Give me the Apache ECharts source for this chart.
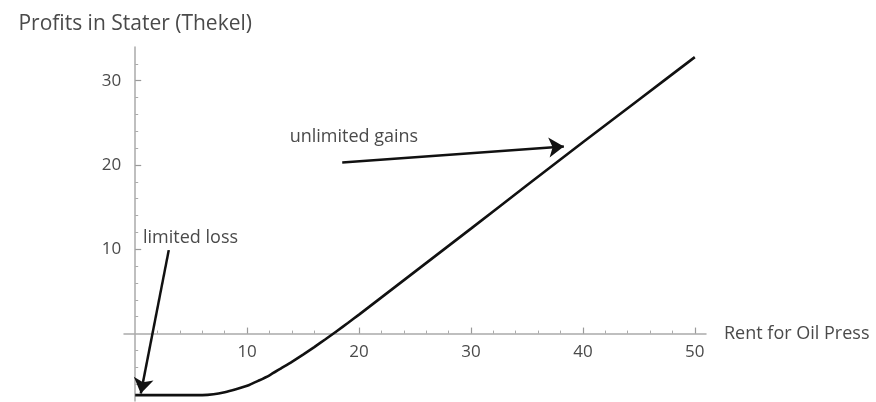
<!DOCTYPE html>
<html>
<head>
<meta charset="utf-8">
<script src="https://cdn.jsdelivr.net/npm/echarts@6/dist/echarts.min.js"></script>
<style>
html,body{margin:0;padding:0;background:#fff;}
#c{width:876px;height:402px;}
</style>
</head>
<body>
<div id="c"></div>
<script>
// Data
const rentValues   = [0, 1, 2, 3, 4, 5, 6, 7, 8, 9, 10, 11, 12, 13, 14, 15, 16, 17, 18, 19, 20, 25, 30, 35, 40, 45, 50];
const profitValues = [-7.3, -7.3, -7.3, -7.3, -7.3, -7.3, -7.3, -7.2, -6.95, -6.6, -6.2, -5.6, -4.95, -4.15, -3.35, -2.5, -1.6, -0.68, 0.28, 1.25, 2.25, 7.35, 12.45, 17.6, 22.7, 27.75, 32.8];
const xMajorTicks = [10, 20, 30, 40, 50];
const xMinorTicks = [2, 4, 6, 8, 12, 14, 16, 18, 22, 24, 26, 28, 32, 34, 36, 38, 42, 44, 46, 48];
const yMajorTicks = [10, 20, 30];
const yMinorTicks = [-6, -4, -2, 2, 4, 6, 8, 12, 14, 16, 18, 22, 24, 26, 28, 32];
const xAxisTitle = 'Rent for Oil Press';
const yAxisTitle = 'Profits in Stater (Thekel)';
const noteTexts  = ['limited loss', 'unlimited gains'];
const noteAnchors = [[0.7, 11.4], [13.8, 23.3]];
const arrowStarts = [[3.0, 9.9], [18.5, 20.3]];
const arrowEnds   = [[0.5, -7.1], [38.3, 22.2]];
const xRange = [-1, 51];
const yRange = [-8, 34];

const FONT = '"Open Sans", sans-serif';
const TXT = '#4a4a4a';
const AX = '#aaa';
const pairs = rentValues.map((x, i) => [x, profitValues[i]]);
const G = {left: 124, right: 170, top: 47, bottom: 1};
const W = 876, H = 402;
const gw = W - G.left - G.right, gh = H - G.top - G.bottom;
// place the axes where the other axis is zero (computed through the axis ranges)
const xOffset = -(gh * (0 - yRange[0]) / (yRange[1] - yRange[0]));
const yOffset = -(gw * (0 - xRange[0]) / (xRange[1] - xRange[0]));
const gridBox = Object.assign({outerBoundsMode: 'none', containLabel: false}, G);

const chart = echarts.init(document.getElementById('c'), null, {renderer: 'canvas'});
chart.setOption({
  animation: false,
  backgroundColor: '#fff',
  grid: [Object.assign({}, gridBox), Object.assign({}, gridBox)],
  xAxis: [{
    gridIndex: 0, type: 'value', min: xRange[0], max: xRange[1],
    position: 'bottom', offset: xOffset,
    axisLine: {onZero: false, lineStyle: {color: AX, width: 1.5}},
    axisTick: {inside: true, length: 6, customValues: xMajorTicks, lineStyle: {color: '#999', width: 1.2}},
    axisLabel: {customValues: xMajorTicks, margin: 10, color: TXT, fontSize: 17, fontFamily: FONT},
    splitLine: {show: false},
    name: xAxisTitle, nameLocation: 'end', nameGap: 18,
    nameTextStyle: {color: TXT, fontSize: 18, fontFamily: FONT, padding: [0, 0, 6, 0]}
  }, {
    gridIndex: 1, type: 'value', min: xRange[0], max: xRange[1],
    position: 'bottom', offset: xOffset,
    axisLine: {show: false, onZero: false},
    axisTick: {inside: true, length: 3, customValues: xMinorTicks, lineStyle: {color: '#aaa', width: 1}},
    axisLabel: {show: false},
    splitLine: {show: false}
  }],
  yAxis: [{
    gridIndex: 0, type: 'value', min: yRange[0], max: yRange[1],
    position: 'left', offset: yOffset,
    axisLine: {onZero: false, lineStyle: {color: AX, width: 1.5}},
    axisTick: {inside: true, length: 6, customValues: yMajorTicks, lineStyle: {color: '#999', width: 1.2}},
    axisLabel: {customValues: yMajorTicks, margin: 14, color: TXT, fontSize: 17, fontFamily: FONT},
    splitLine: {show: false},
    name: yAxisTitle, nameLocation: 'end', nameGap: 12,
    nameTextStyle: {color: TXT, fontSize: 21, fontFamily: FONT}
  }, {
    gridIndex: 1, type: 'value', min: yRange[0], max: yRange[1],
    position: 'left', offset: yOffset,
    axisLine: {show: false, onZero: false},
    axisTick: {inside: true, length: 3, customValues: yMinorTicks, lineStyle: {color: '#aaa', width: 1}},
    axisLabel: {show: false},
    splitLine: {show: false}
  }],
  series: [{
    type: 'line',
    xAxisIndex: 0, yAxisIndex: 0,
    data: pairs,
    smooth: 0.2,
    symbol: 'none',
    lineStyle: {color: '#111', width: 2.6},
    markLine: {
      silent: true,
      symbol: ['none', 'arrow'],
      symbolSize: 15,
      label: {show: false},
      lineStyle: {color: '#111', width: 2.5, type: 'solid'},
      data: arrowStarts.map((s, i) => [{coord: s}, {coord: arrowEnds[i]}])
    },
    markPoint: {
      silent: true,
      symbol: 'circle',
      symbolSize: 0,
      label: {show: true, position: 'right', distance: 0, color: TXT, fontSize: 18, fontFamily: FONT,
              formatter: p => p.name},
      data: noteTexts.map((t, i) => ({name: t, coord: noteAnchors[i]}))
    }
  }]
});
</script>
</body>
</html>
